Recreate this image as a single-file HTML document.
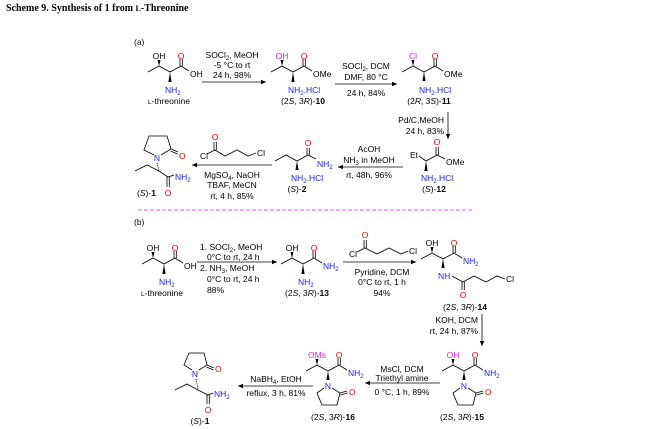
<!DOCTYPE html>
<html><head><meta charset="utf-8"><style>
html,body{margin:0;padding:0;background:#fff}
svg{display:block}
text{font-family:"Liberation Sans",sans-serif;font-size:8.5px;fill:#000}
.r{fill:#e00}.b{fill:#1a1aff}.m{fill:#e020e0}
.c{text-anchor:middle}.e{text-anchor:end}
line,polyline{stroke:#000;stroke-width:0.8;fill:none}
.s{font-size:6px}
</style></head><body>
<svg width="650" height="429" viewBox="0 0 650 429" xmlns="http://www.w3.org/2000/svg">
<defs>
<marker id="ah" markerWidth="6" markerHeight="6" refX="5" refY="3" orient="auto" markerUnits="userSpaceOnUse"><path d="M0,0.8 L5,3 L0,5.2z" fill="#000"/></marker>
<g id="sk">
<polyline points="-22,0 -11,-6 0,0 11,-6 19,-1"/>
<polygon points="-11,-6 -12.5,-12 -9.5,-12" fill="#000"/>
<polygon points="0,0 -1.6,10 1.6,10" fill="#000"/>
<line x1="10" y1="-6" x2="10" y2="-13"/><line x1="12.3" y1="-6" x2="12.3" y2="-13"/>
</g>
<g id="sk2">
<polyline points="-22,0 -11,-6 0,0 11,-6 19,-1"/>
<polygon points="-11,-6 -12.5,-12 -9.5,-12" fill="#000"/>
<polygon points="0,0 -1.6,9 1.6,9" fill="#000"/>
<line x1="10" y1="-6" x2="10" y2="-13"/><line x1="12.3" y1="-6" x2="12.3" y2="-13"/>
</g>
<g id="ring">
<polyline points="4,2 12,7 9,19 -6,19 -11,7 -4,2"/>
<line x1="12" y1="7" x2="19" y2="5"/><line x1="12.5" y1="9" x2="19.5" y2="7"/>
</g>
</defs>

<text x="6" y="11" style="font-family:'Liberation Serif',serif;font-weight:bold;font-size:10px">Scheme 9. Synthesis of 1 from <tspan style="font-size:8px">L</tspan>-Threonine</text>

<!-- (a) -->
<text x="134" y="45">(a)</text>
<use href="#sk" x="170" y="72"/>
<text x="159" y="59" class="c">OH</text><text x="181" y="59" class="c r">O</text>
<text x="190" y="77">OH</text>
<text x="165" y="93" class="b">NH<tspan class="s" dy="2">2</tspan></text>
<text x="169" y="104" class="c"><tspan style="font-size:6.5px">L</tspan>-threonine</text>
<line x1="202" y1="82" x2="266" y2="82" marker-end="url(#ah)"/>
<text x="232" y="58" class="c">SOCl<tspan class="s" dy="2">2</tspan><tspan dy="-2">, MeOH</tspan></text>
<text x="232" y="68" class="c">-5 °C to rt</text>
<text x="232" y="78" class="c">24 h, 98%</text>
<!-- 10 -->
<use href="#sk" x="293" y="72"/>
<text x="282" y="59" class="c m">OH</text><text x="304" y="59" class="c r">O</text>
<text x="313" y="77">OMe</text>
<text x="288" y="93" class="b">NH<tspan class="s" dy="2">2</tspan><tspan dy="-2">.HCl</tspan></text>
<text x="303" y="104" class="c">(2<tspan font-style="italic">S</tspan>, 3<tspan font-style="italic">R</tspan>)-<tspan font-weight="bold">10</tspan></text>
<line x1="335" y1="84" x2="397" y2="84" marker-end="url(#ah)"/>
<text x="366" y="69" class="c">SOCl<tspan class="s" dy="2">2</tspan><tspan dy="-2">, DCM</tspan></text>
<text x="366" y="80" class="c">DMF, 80 °C</text>
<text x="366" y="96" class="c">24 h, 84%</text>
<!-- 11 -->
<use href="#sk2" x="424" y="72"/>
<text x="413" y="59" class="c m">Cl</text><text x="435" y="59" class="c r">O</text>
<text x="444" y="77">OMe</text>
<text x="419" y="93" class="b">NH<tspan class="s" dy="2">2</tspan><tspan dy="-2">.HCl</tspan></text>
<text x="429" y="104" class="c">(2<tspan font-style="italic">R</tspan>, 3<tspan font-style="italic">S</tspan>)-<tspan font-weight="bold">11</tspan></text>
<line x1="448" y1="112" x2="448" y2="139" marker-end="url(#ah)"/>
<text x="444" y="123" class="e">Pd/C,MeOH</text>
<text x="444" y="134" class="e">24 h, 83%</text>
<!-- 12 -->
<polyline points="419,156 426,161 437,155 445,159"/>
<line x1="436" y1="155" x2="436" y2="147"/><line x1="438.3" y1="155" x2="438.3" y2="147"/>
<polygon points="426,161 424.4,171 427.6,171" fill="#000"/>
<text x="437" y="145" class="c r">O</text>
<text x="418" y="158" class="e">Et</text>
<text x="446" y="165">OMe</text>
<text x="421" y="181" class="b">NH<tspan class="s" dy="2">2</tspan><tspan dy="-2">.HCl</tspan></text>
<text x="434" y="192" class="c">(<tspan font-style="italic">S</tspan>)-<tspan font-weight="bold">12</tspan></text>
<line x1="403" y1="167" x2="338" y2="167" marker-end="url(#ah)"/>
<text x="369" y="152" class="c">AcOH</text>
<text x="369" y="163" class="c">NH<tspan class="s" dy="2">3</tspan><tspan dy="-2"> in MeOH</tspan></text>
<text x="369" y="178" class="c">rt, 48h, 96%</text>
<!-- 2 -->
<polyline points="275,161 286,155 297,161 308,155 316,159"/>
<line x1="307" y1="155" x2="307" y2="148"/><line x1="309.3" y1="155" x2="309.3" y2="148"/>
<polygon points="297,161 295.4,170 298.6,170" fill="#000"/>
<text x="308" y="146" class="c r">O</text>
<text x="317" y="167" class="b">NH<tspan class="s" dy="2">2</tspan></text>
<text x="291" y="181" class="b">NH<tspan class="s" dy="2">2</tspan><tspan dy="-2">.HCl</tspan></text>
<text x="297" y="192" class="c">(<tspan font-style="italic">S</tspan>)-<tspan font-weight="bold">2</tspan></text>
<line x1="272" y1="165" x2="192" y2="165" marker-end="url(#ah)"/>
<polyline points="207,154 215,150 225,156 237,150 248,156 256,153"/>
<line x1="214" y1="150" x2="214" y2="142"/><line x1="216.3" y1="150" x2="216.3" y2="142"/>
<text x="215" y="140" class="c r">O</text>
<text x="204" y="159" class="c">Cl</text>
<text x="257" y="156">Cl</text>
<text x="232" y="178" class="c">MgSO<tspan class="s" dy="2">4</tspan><tspan dy="-2">, NaOH</tspan></text>
<text x="232" y="188" class="c">TBAF, MeCN</text>
<text x="232" y="199" class="c">rt, 4 h, 85%</text>
<!-- 1 (a) -->
<polyline points="161,155 171,149 167,136 149,136 144,150 154,155"/>
<line x1="171" y1="149" x2="178" y2="152"/><line x1="170.5" y1="151" x2="177.5" y2="154"/>
<text x="179" y="159" class="r">O</text>
<text x="157" y="161" class="c b">N</text>
<line x1="157" y1="163" x2="159" y2="171" stroke-dasharray="1.2,1"/>
<polyline points="135,171 147,165 159,171 168,177 174,175"/>
<line x1="167" y1="177" x2="167" y2="187"/><line x1="169.3" y1="177" x2="169.3" y2="187"/>
<text x="175" y="180" class="b">NH<tspan class="s" dy="2">2</tspan></text>
<text x="168" y="196" class="c r">O</text>
<text x="137" y="196">(<tspan font-style="italic">S</tspan>)-<tspan font-weight="bold">1</tspan></text>

<line x1="138" y1="210" x2="474" y2="210" stroke-width="1.2" stroke-dasharray="4,2" style="stroke:#ee22ee"/>

<!-- (b) -->
<text x="134" y="225">(b)</text>
<use href="#sk" x="164" y="264"/>
<text x="153" y="251" class="c">OH</text><text x="175" y="251" class="c r">O</text>
<text x="184" y="269">OH</text>
<text x="159" y="285" class="b">NH<tspan class="s" dy="2">2</tspan></text>
<text x="162" y="296" class="c"><tspan style="font-size:6.5px">L</tspan>-threonine</text>
<line x1="197" y1="262" x2="277" y2="262" marker-end="url(#ah)"/>
<text x="200" y="250">1. SOCl<tspan class="s" dy="2">2</tspan><tspan dy="-2">, MeOH</tspan></text>
<text x="207" y="260">0°C to rt, 24 h</text>
<text x="200" y="271">2. NH<tspan class="s" dy="2">3</tspan><tspan dy="-2">, MeOH</tspan></text>
<text x="207" y="282">0°C to rt, 24 h</text>
<text x="207" y="293">88%</text>
<!-- 13 -->
<use href="#sk" x="303" y="264"/>
<text x="292" y="251" class="c">OH</text><text x="314" y="251" class="c r">O</text>
<text x="323" y="269" class="b">NH<tspan class="s" dy="2">2</tspan></text>
<text x="298" y="285" class="b">NH<tspan class="s" dy="2">2</tspan></text>
<text x="307" y="296" class="c">(2<tspan font-style="italic">S</tspan>, 3<tspan font-style="italic">R</tspan>)-<tspan font-weight="bold">13</tspan></text>
<line x1="343" y1="262" x2="416" y2="262" marker-end="url(#ah)"/>
<polyline points="357,252 365,248 377,254 389,248 401,254 408,251"/>
<line x1="364" y1="248" x2="364" y2="240"/><line x1="366.3" y1="248" x2="366.3" y2="240"/>
<text x="365" y="238" class="c r">O</text>
<text x="353" y="257" class="c">Cl</text>
<text x="409" y="254">Cl</text>
<text x="382" y="275" class="c">Pyridine, DCM</text>
<text x="382" y="285" class="c">0°C to rt, 1 h</text>
<text x="382" y="296" class="c">94%</text>
<!-- 14 -->
<use href="#sk2" x="443" y="259"/>
<text x="432" y="246" class="c">OH</text><text x="454" y="246" class="c r">O</text>
<text x="463" y="264" class="b">NH<tspan class="s" dy="2">2</tspan></text>
<text x="438" y="279" class="b">NH</text>
<polyline points="452,276 463,282 474,276 486,282 497,276 505,279"/>
<line x1="462" y1="282" x2="462" y2="290"/><line x1="464.3" y1="282" x2="464.3" y2="290"/>
<text x="463" y="298" class="c r">O</text>
<text x="506" y="282">Cl</text>
<text x="465" y="310" class="c">(2<tspan font-style="italic">S</tspan>, 3<tspan font-style="italic">R</tspan>)-<tspan font-weight="bold">14</tspan></text>
<line x1="482" y1="314" x2="482" y2="346" marker-end="url(#ah)"/>
<text x="478" y="323" class="e">KOH, DCM</text>
<text x="478" y="334" class="e">rt, 24 h, 87%</text>
<!-- 15 -->
<use href="#sk2" x="464" y="371"/>
<text x="453" y="358" class="c m">OH</text><text x="475" y="358" class="c r">O</text>
<text x="484" y="376" class="b">NH<tspan class="s" dy="2">2</tspan></text>
<text x="464" y="389" class="c b">N</text>
<use href="#ring" x="464" y="386"/>
<text x="485" y="395" class="r">O</text>
<text x="462" y="420" class="c">(2<tspan font-style="italic">S</tspan>, 3<tspan font-style="italic">R</tspan>)-<tspan font-weight="bold">15</tspan></text>
<line x1="440" y1="383" x2="365" y2="383" marker-end="url(#ah)"/>
<text x="402" y="372" class="c">MsCl, DCM</text>
<text x="402" y="381" class="c">Triethyl amine</text>
<text x="402" y="395" class="c">0 °C, 1 h, 89%</text>
<!-- 16 -->
<use href="#sk2" x="328" y="371"/>
<text x="317" y="358" class="c m">OMs</text><text x="339" y="358" class="c r">O</text>
<text x="348" y="376" class="b">NH<tspan class="s" dy="2">2</tspan></text>
<text x="328" y="389" class="c b">N</text>
<use href="#ring" x="328" y="386"/>
<text x="349" y="395" class="r">O</text>
<text x="333" y="420" class="c">(2<tspan font-style="italic">S</tspan>, 3<tspan font-style="italic">R</tspan>)-<tspan font-weight="bold">16</tspan></text>
<line x1="313" y1="386" x2="238" y2="386" marker-end="url(#ah)"/>
<text x="276" y="382" class="c">NaBH<tspan class="s" dy="2">4</tspan><tspan dy="-2">, EtOH</tspan></text>
<text x="276" y="396" class="c">reflux, 3 h, 81%</text>
<!-- 1 (b) -->
<polyline points="199,370 207,365 204,353 189,353 184,365 192,370"/>
<line x1="207" y1="365" x2="214" y2="368"/><line x1="206.5" y1="367" x2="213.5" y2="370"/>
<text x="215" y="372" class="r">O</text>
<text x="195" y="377" class="c b">N</text>
<line x1="196" y1="379" x2="198" y2="389" stroke-dasharray="1.2,1"/>
<polyline points="175,390 187,384 198,390 208,395 213,393"/>
<line x1="207" y1="395" x2="207" y2="404"/><line x1="209.3" y1="395" x2="209.3" y2="404"/>
<text x="214" y="397" class="b">NH<tspan class="s" dy="2">2</tspan></text>
<text x="208" y="413" class="c r">O</text>
<text x="200" y="424" class="c">(<tspan font-style="italic">S</tspan>)-<tspan font-weight="bold">1</tspan></text>
</svg>
</body></html>
